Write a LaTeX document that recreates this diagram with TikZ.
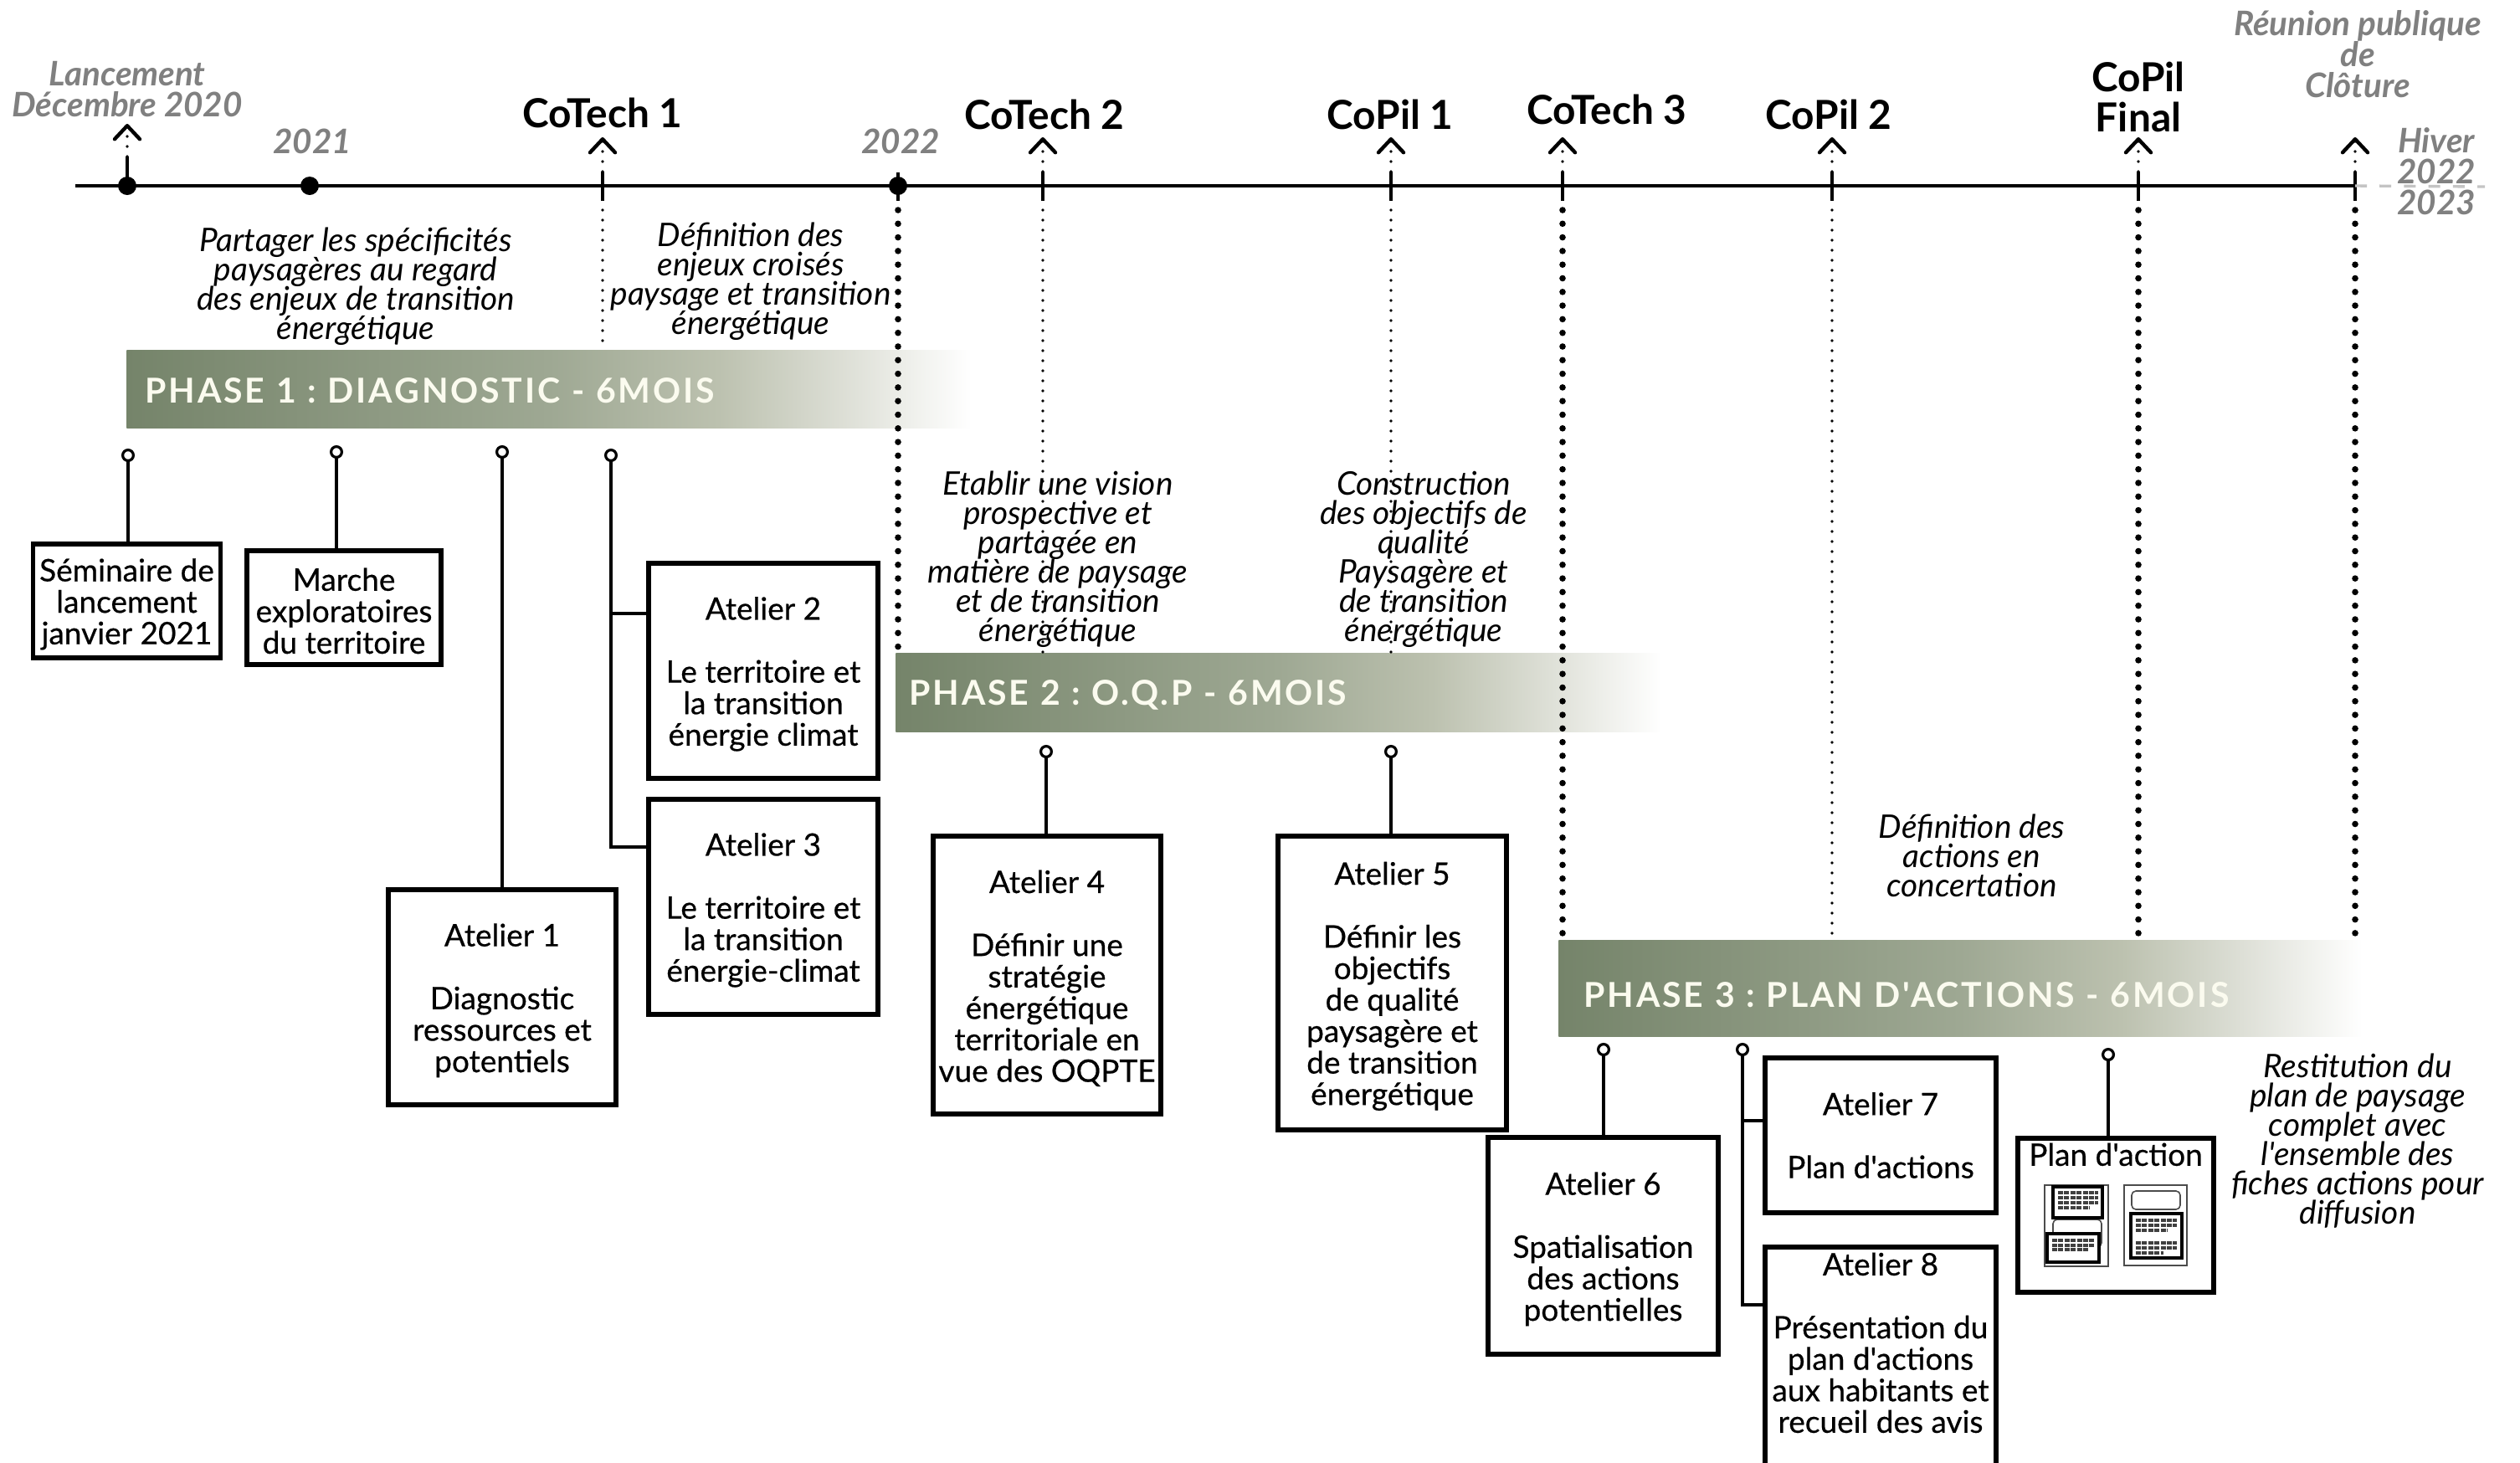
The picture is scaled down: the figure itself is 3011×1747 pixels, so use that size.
\documentclass[tikz,border=0pt]{standalone}
\usepackage{fontspec}
\setmainfont[Ligatures=TeXOff]{Lato}
\newfontfamily\phasefont[Ligatures=TeXOff,LetterSpace=7]{Lato}
\frenchspacing
\lineskiplimit=-20pt
\usetikzlibrary{
  arrows.meta,
  positioning,
  calc,
}
\definecolor{phasegreen}{HTML}{75846A}
\definecolor{phasemid}{HTML}{9EA893}
\definecolor{phasepale}{HTML}{BCC1AF}
\definecolor{phasefog}{HTML}{DDDFD6}
\definecolor{phaseivory}{HTML}{FBFBEF}
\definecolor{mygrey}{HTML}{808080}
\definecolor{mydash}{HTML}{C4C4C4}
\pgfdeclarehorizontalshading{phasefade}{100bp}{
  color(0bp)=(phasegreen); color(25bp)=(phasegreen); color(50bp)=(phasemid);
  color(60bp)=(phasepale); color(67.5bp)=(phasefog); color(75bp)=(white);
  color(100bp)=(white)
}
\newcommand{\mile}[2]{
  \coordinate (#1)     at (#2,222);
  \coordinate (#1 up)  at (#2,205);
  \coordinate (#1 low) at (#2,240);
  \coordinate (#1 dot) at (#2,251);
  \coordinate (#1 top) at (#2,164);
  \draw[my tick] (#1 up) -- (#1 low);
  \draw[my thin,->] (#1 up) -- (#1 top);
}
\newcommand{\lead}{\rule{0pt}{17.5pt}}
\newcommand{\phasetext}[2]{\raisebox{#1}[0pt][0pt]{#2}}
\tikzset{
  >={Straight Barb[length=8pt,width=15pt,line width=2.2pt,round]},
  my box/.style={
    draw,
    rectangle,
    line width=2.6pt,
    inner sep=0pt,
    align=center,
    font=\fontsize{18.5}{18.8}\selectfont\addfontfeature{FakeBold=0.5}
  },
  my phase/.style={
    shade,
    shading=phasefade,
    anchor=west,
    inner ysep=0pt,
    align=left,
    text=phaseivory,
    font=\fontsize{20.5}{22}\phasefont\bfseries
  },
  my note/.style={
    align=center,
    inner sep=0pt,
    font=\fontsize{19.4}{17.5}\selectfont\itshape
  },
  my date/.style={
    align=center,
    inner sep=0pt,
    text=mygrey,
    font=\fontsize{20.2}{18.5}\selectfont\bfseries\itshape
  },
  my meet/.style={
    align=center,
    inner sep=0pt,
    font=\fontsize{23.9}{24}\selectfont\bfseries
  },
  my axis/.style={line width=2pt},
  my tick/.style={line width=1.6pt},
  my thin/.style={line width=1.8pt,line cap=round,dash pattern=on 0pt off 6pt},
  my thick/.style={line width=3.8pt,line cap=round,dash pattern=on 0pt off 8.15pt},
  my pin/.style={line width=1.7pt,{Circle[open,length=8pt,width=8pt,line width=1.6pt]}-},
  my branch/.style={line width=1.7pt},
  my point/.style={circle,fill=black,inner sep=0pt,minimum size=11pt},
  my sheet/.style={draw=black!70,line width=0.7pt},
  my frame/.style={draw=black,line width=2.2pt,fill=white},
  my slot/.style={draw=black!70,line width=0.8pt,rounded corners=2.5pt,fill=white},
  my scribble/.style={draw=black!75,line width=1.6pt,dash pattern=on 3pt off 0.7pt},
}
\begin{document}
\begin{tikzpicture}[x=0.5pt,y=-0.5pt]
\clip (0,0) rectangle (3011,1747);
\node[my phase,minimum height=46.5pt,inner xsep=11pt,text width=482.5pt] (phase1) at (151,465) {\phasetext{-8.2pt}{PHASE 1 : DIAGNOSTIC - 6MOIS}};
\node[my phase,minimum height=47pt,inner xsep=8pt,text width=441.5pt]   (phase2) at (1070,827) {\phasetext{-7.6pt}{PHASE 2 : O.Q.P - 6MOIS}};
\node[my phase,minimum height=57.5pt,inner xsep=15pt,text width=450pt]  (phase3) at (1862,1180.5) {\phasetext{-11.4pt}{PHASE 3 : PLAN D'ACTIONS - 6MOIS}};

\coordinate (axis start) at (90,222);
\coordinate (dash end) at (2969,223);
\mile{cotech1}{720}
\mile{cotech2}{1246}
\mile{copil1}{1662}
\mile{cotech3}{1867}
\mile{copil2}{2189}
\mile{copilf}{2555}
\mile{reunion}{2814}
\coordinate (start)     at (152,222);
\coordinate (start up)  at (152,187);
\coordinate (start top) at (152,148);
\coordinate (y2022 up)  at (1073,206);
\coordinate (y2022 low) at (1073,240);
\coordinate (y2022 dot) at (1073,251);
\node[my point] (pstart) at (start) {};
\node[my point] (p2021) at (370,222) {};
\node[my point] (p2022) at (1073,222) {};
\draw[my axis] (axis start) -- (reunion);
\draw[draw=mydash,line width=1.7pt,dash pattern=on 7pt off 7.6pt] (reunion) -- (dash end);
\draw[my tick] (start up) -- (start);
\draw[my thin,->] (start up) -- (start top);
\draw[my tick] (y2022 up) -- (y2022 low);

\draw[my thin]  (cotech1 dot) -- (cotech1 |- phase1.north);
\draw[my thin]  (cotech2 dot) -- (cotech2 |- phase2.north);
\draw[my thin]  (copil1 dot)  -- (copil1 |- phase2.north);
\draw[my thin]  (copil2 dot)  -- (copil2 |- phase3.north);
\draw[my thick] (y2022 dot)   -- (y2022 dot |- phase2.north);
\draw[my thick] (cotech3 dot) -- (cotech3 |- phase3.north);
\draw[my thick] (copilf dot)  -- (copilf |- phase3.north);
\draw[my thick] (reunion dot) -- (reunion |- phase3.north);

\node[my date] (tstart)   at (152,107) {Lancement\\Décembre 2020};
\node[my date] (t2021)    at (373,169) {2021};
\node[my date] (t2022)    at (1076,169) {2022};
\node[my date] (treunion) at (2817,65) {Réunion publique\\de\\Clôture};
\node[my date] (thiver)   at (2911,205) {Hiver\\2022\\2023};
\node[my meet] (tcotech1) at (720,135) {CoTech 1};
\node[my meet] (tcotech2) at (1248,137) {CoTech 2};
\node[my meet] (tcopil1)  at (1661,137) {CoPil 1};
\node[my meet] (tcotech3) at (1920,131) {CoTech 3};
\node[my meet] (tcopil2)  at (2185,137) {CoPil 2};
\node[my meet] (tcopilf)  at (2555,116) {CoPil\\Final};

\node[my note] (note1) at (425,342)  {Partager les spécificités\\paysagères au regard\\des enjeux de transition\\énergétique};
\node[my note] (note2) at (897,336)  {Définition des\\enjeux croisés\\paysage et transition\\énergétique};
\node[my note] (note3) at (1264,668) {Etablir une vision\\prospective et\\partagée en\\matière de paysage\\et de transition\\énergétique};
\node[my note] (note4) at (1701,668) {Construction\\des objectifs de\\qualité\\Paysagère et\\de transition\\énergétique};
\node[my note] (note5) at (2356,1022) {Définition des\\actions en\\concertation};
\node[my note] (note6) at (2817,1363) {Restitution du\\plan de paysage\\complet avec\\l'ensemble des\\fiches actions pour\\diffusion};

\node[my box,minimum width=112pt,minimum height=68pt]   (seminaire) at (151.5,718)  {\lead Séminaire de\\lancement\\janvier 2021};
\node[my box,minimum width=116pt,minimum height=68pt]   (marche)    at (411,726)    {\lead Marche\\exploratoires\\du territoire};
\node[my box,minimum width=136pt,minimum height=128.5pt] (atelier1) at (600,1191.5) {\lead Atelier 1\\~\\Diagnostic\\ressources et\\potentiels};
\node[my box,minimum width=137pt,minimum height=128.5pt] (atelier2) at (912,801.5)  {\lead Atelier 2\\~\\Le territoire et\\la transition\\énergie climat};
\node[my box,minimum width=137pt,minimum height=128.5pt] (atelier3) at (912,1083.5) {\lead Atelier 3\\~\\Le territoire et\\la transition\\énergie-climat};
\node[my box,minimum width=136pt,minimum height=166pt]  (atelier4)  at (1251,1165)  {\lead Atelier 4\\~\\Définir une\\stratégie\\énergétique\\territoriale en\\vue des OQPTE};
\node[my box,minimum width=136.5pt,minimum height=175.5pt] (atelier5) at (1663.5,1174.5) {\lead Atelier 5\\~\\Définir les\\objectifs\\de qualité\\paysagère et\\de transition\\énergétique};
\node[my box,minimum width=137.5pt,minimum height=129.5pt] (atelier6) at (1915.5,1488.5) {\lead Atelier 6\\~\\Spatialisation\\des actions\\potentielles};
\node[my box,minimum width=138pt,minimum height=92.5pt] (atelier7)  at (2247,1356.5) {Atelier 7\\~\\Plan d'actions};
\node[my box,minimum width=138pt,minimum height=134.5pt] (atelier8) at (2247,1624.5) {Atelier 8\\~\\Présentation du\\plan d'actions\\aux habitants et\\recueil des avis\\[1.5pt]~};
\node[my box,minimum width=117pt,minimum height=92pt]   (plan)      at (2528,1452)  {Plan d'action\\[54pt]~};

\coordinate (pin1) at (153,536);
\coordinate (pin2) at (402,532);
\coordinate (pin3) at (600,532);
\coordinate (pin4) at (730,536);
\coordinate (join2) at (730,733);
\coordinate (join3) at (730,1012);
\coordinate (pin5) at (1250,890);
\coordinate (pin6) at (1662,890);
\coordinate (pin7) at (1916,1246);
\coordinate (pin8) at (2082,1246);
\coordinate (join7) at (2082,1339);
\coordinate (join8) at (2082,1559);
\coordinate (pin9) at (2519,1252);
\draw[my pin] (pin1) -- (pin1 |- seminaire.north);
\draw[my pin] (pin2) -- (pin2 |- marche.north);
\draw[my pin] (pin3) -- (atelier1.north);
\draw[my pin] (pin4) -- (join3) -- (join3 -| atelier3.west);
\draw[my branch] (join2) -- (join2 -| atelier2.west);
\draw[my pin] (pin5) -- (pin5 |- atelier4.north);
\draw[my pin] (pin6) -- (pin6 |- atelier5.north);
\draw[my pin] (pin7) -- (pin7 |- atelier6.north);
\draw[my pin] (pin8) -- (join8) -- (join8 -| atelier8.west);
\draw[my branch] (join7) -- (join7 -| atelier7.west);
\draw[my pin] (pin9) -- (pin9 |- plan.north);

\draw[my sheet] (2443,1416) rectangle (2519,1513);
\draw[my slot]  (2453,1457) rectangle (2511,1490);
\draw[my frame] (2453,1418) rectangle (2512,1455);
\draw[my frame] (2446,1474) rectangle (2508,1508);
\draw[my scribble] (2459,1425) -- (2507,1425) (2459,1431) -- (2507,1431) (2459,1437) -- (2507,1437) (2459,1443) -- (2497,1443)
                   (2452,1482) -- (2503,1482) (2452,1488) -- (2503,1488) (2452,1493) -- (2495,1493);
\draw[my sheet] (2538,1416) rectangle (2613,1512);
\draw[my slot]  (2547,1423) rectangle (2605,1445);
\draw[my frame] (2546,1450) rectangle (2607,1503);
\draw[my scribble] (2552,1458) -- (2601,1458) (2552,1464) -- (2601,1464) (2552,1470) -- (2590,1470)
                   (2552,1485) -- (2601,1485) (2552,1491) -- (2601,1491) (2552,1497) -- (2585,1497);
\end{tikzpicture}
\end{document}
